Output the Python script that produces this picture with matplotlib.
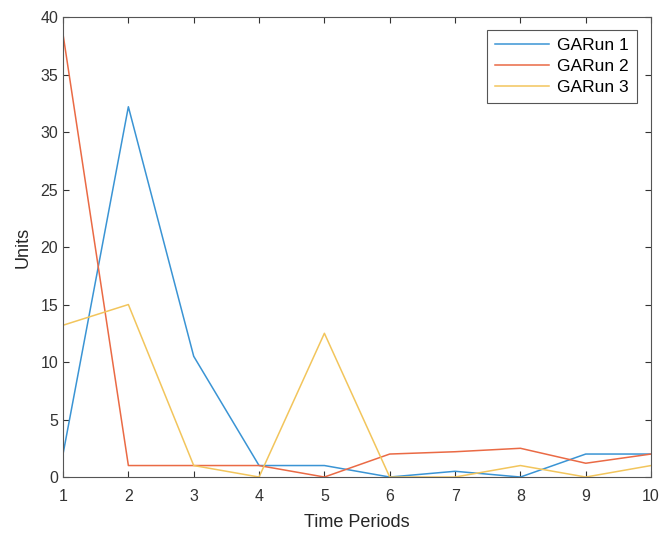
import matplotlib
matplotlib.use("Agg")
import matplotlib.pyplot as plt

plt.rcParams['font.family'] = ['Liberation Sans', 'DejaVu Sans']

periods = [1, 2, 3, 4, 5, 6, 7, 8, 9, 10]
run1 = [2.0, 32.2, 10.5, 1.0, 1.0, 0.0, 0.5, 0.0, 2.0, 2.0]
run2 = [38.5, 1.0, 1.0, 1.0, 0.0, 2.0, 2.2, 2.5, 1.2, 2.0]
run3 = [13.2, 15.0, 1.0, 0.0, 12.5, 0.0, 0.0, 1.0, 0.0, 1.0]
labels = ['GARun 1', 'GARun 2', 'GARun 3']
colors = ['#3A94D4', '#EA6A45', '#F2C55C']

fig = plt.figure(figsize=(6.6, 5.33), dpi=100)
ax = fig.add_axes([0.0955, 0.105, 0.891, 0.863])

for ys, lab, c in zip([run1, run2, run3], labels, colors):
    ax.plot(periods, ys, color=c, linewidth=1.1, label=lab)

ax.set_xlim(1, 10)
ax.set_ylim(0, 40)
ax.set_xticks(periods)
ax.set_yticks(range(0, 41, 5))
ax.tick_params(direction='in', top=True, right=True, labelsize=11.5,
               colors='#333333', length=4)
ax.tick_params(axis='x', pad=8.5)
for s in ax.spines.values():
    s.set_color('#555555')
    s.set_linewidth(0.8)
ax.set_xlabel('Time Periods', fontsize=13, color='#262626', labelpad=7)
ax.set_ylabel('Units', fontsize=13, color='#262626', labelpad=6)

leg = ax.legend(loc='upper right', bbox_to_anchor=(0.976, 0.972), borderaxespad=0,
                fontsize=12.5, fancybox=False, framealpha=1,
                edgecolor='#555555', handlelength=3.1,
                labelspacing=0.35, handletextpad=0.5, borderpad=0.45)
leg.get_frame().set_linewidth(0.8)

fig.savefig('out.png', dpi=100)
